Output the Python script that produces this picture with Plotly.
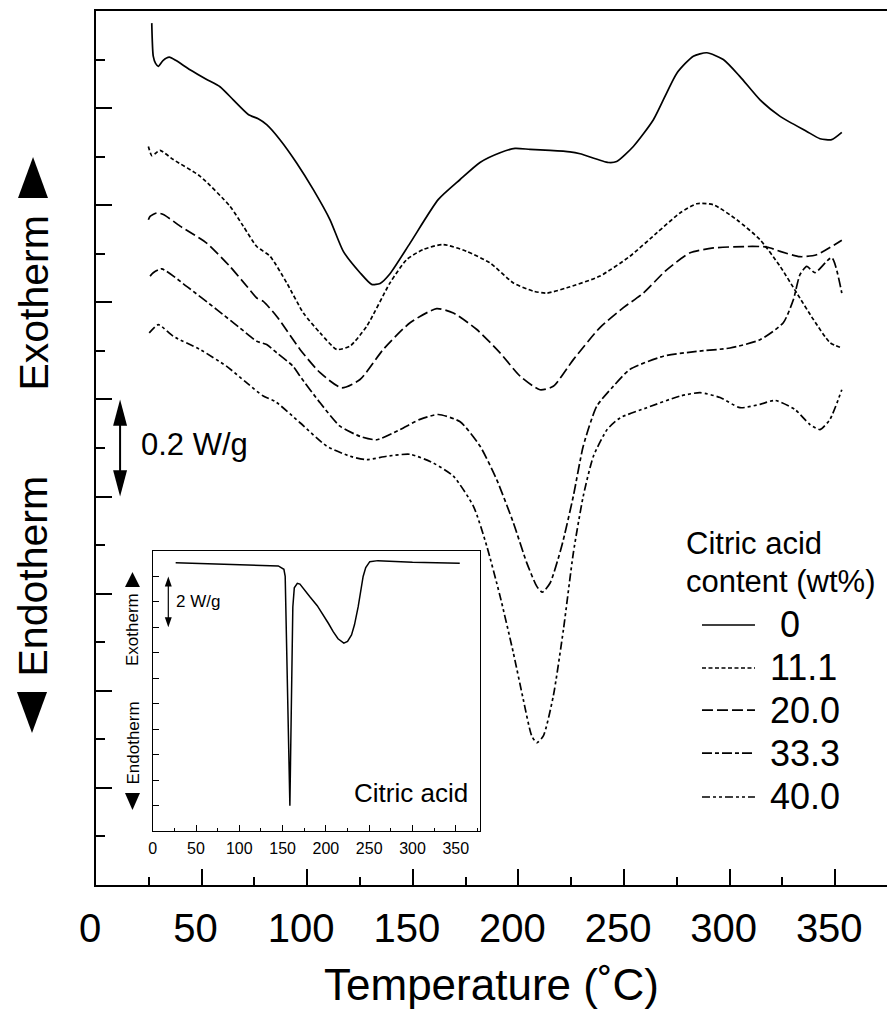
import plotly.graph_objects as go

FONT = "Liberation Sans, Arial, Helvetica, sans-serif"

# ---------------- data (temperature in deg C, heat flow in W/g, curves offset) ----------------
T0 = [26.4, 27.1, 28.2, 29.5, 31.7, 34.7, 37.9, 44.5, 52.4, 58.7, 65.0, 72.1, 76.8, 80.8, 87.1,
      95.0, 102.9, 110.8, 117.1, 125.0, 130.5, 134.5, 139.2, 148.7, 162.1, 172.4, 181.8, 191.3,
      198.4, 205.5, 215.0, 224.4, 229.2, 242.6, 246.5, 254.4, 263.9, 275.0, 282.8, 289.2, 297.0,
      304.9, 314.4, 323.9, 336.5, 342.8, 348.3, 353.1]
Y0 = [1.675, 1.607, 1.592, 1.586, 1.598, 1.605, 1.598, 1.579, 1.559, 1.544, 1.517, 1.487, 1.478,
      1.466, 1.435, 1.387, 1.332, 1.270, 1.205, 1.161, 1.137, 1.139, 1.159, 1.222, 1.312, 1.353,
      1.388, 1.408, 1.417, 1.415, 1.413, 1.410, 1.406, 1.388, 1.390, 1.421, 1.476, 1.572, 1.607,
      1.614, 1.600, 1.565, 1.517, 1.483, 1.452, 1.437, 1.435, 1.450]

T11 = [24.8, 26.4, 27.9, 30.3, 36.6, 49.2, 63.4, 69.7, 76.1, 82.4, 90.3, 98.2, 106.1, 114.0,
       120.3, 128.2, 139.2, 147.1, 155.0, 164.4, 175.5, 186.6, 197.6, 207.1, 213.4, 222.9, 238.6,
       252.8, 265.5, 276.5, 284.4, 292.3, 303.4, 314.4, 323.9, 331.8, 339.6, 347.5, 353.1]
Y11 = [1.421, 1.402, 1.406, 1.413, 1.394, 1.360, 1.298, 1.257, 1.215, 1.195, 1.140, 1.078, 1.037,
       1.003, 1.010, 1.051, 1.140, 1.188, 1.209, 1.219, 1.205, 1.181, 1.140, 1.123, 1.119, 1.130,
       1.154, 1.195, 1.243, 1.284, 1.303, 1.301, 1.270, 1.229, 1.174, 1.119, 1.065, 1.017, 1.006]

T20 = [24.8, 25.6, 28.7, 31.9, 39.8, 52.4, 63.4, 71.4, 76.1, 79.2, 85.6, 96.6, 106.1, 116.3,
       125.0, 136.0, 148.7, 161.3, 169.2, 180.3, 191.3, 200.8, 210.2, 216.5, 226.0, 238.6, 249.7,
       259.1, 270.2, 281.3, 292.3, 308.1, 317.6, 323.9, 333.3, 341.2, 353.1]
Y20 = [1.270, 1.277, 1.284, 1.281, 1.257, 1.222, 1.174, 1.133, 1.109, 1.102, 1.071, 1.003, 0.955,
       0.924, 0.941, 1.003, 1.058, 1.087, 1.078, 1.044, 0.996, 0.948, 0.920, 0.927, 0.982, 1.048,
       1.089, 1.119, 1.167, 1.202, 1.212, 1.215, 1.214, 1.205, 1.194, 1.198, 1.228]

T33 = [25.6, 27.1, 31.1, 42.9, 57.2, 68.2, 76.1, 80.8, 85.6, 93.4, 96.6, 106.1, 115.5, 125.0,
       132.9, 143.9, 153.4, 162.1, 172.4, 181.8, 189.7, 197.6, 203.9, 208.7, 211.3, 215.0, 220.5,
       226.0, 230.7, 237.1, 244.9, 252.8, 268.6, 284.4, 300.2, 314.4, 325.4, 330.2, 333.3, 336.5,
       340.4, 348.3, 353.1]
Y33 = [1.154, 1.161, 1.169, 1.133, 1.085, 1.047, 1.020, 1.013, 0.996, 0.968, 0.948, 0.893, 0.845,
       0.824, 0.817, 0.838, 0.859, 0.869, 0.854, 0.804, 0.735, 0.646, 0.564, 0.515, 0.503, 0.522,
       0.598, 0.701, 0.804, 0.886, 0.927, 0.962, 0.989, 0.999, 1.006, 1.023, 1.058, 1.106, 1.157,
       1.174, 1.161, 1.192, 1.119]

T40 = [25.2, 29.5, 36.6, 49.2, 61.9, 71.4, 79.2, 84.8, 96.6, 109.2, 120.3, 128.2, 137.6, 148.7,
       159.7, 169.2, 178.7, 185.0, 191.3, 197.6, 202.3, 206.3, 208.7, 211.8, 216.5, 221.3, 226.0,
       230.7, 235.5, 242.0, 248.1, 260.8, 276.5, 286.0, 295.5, 304.9, 314.4, 321.5, 331.0, 338.1,
       342.8, 347.5, 353.1]
Y40 = [1.037, 1.054, 1.030, 1.003, 0.968, 0.934, 0.907, 0.896, 0.852, 0.804, 0.783, 0.776, 0.783,
       0.787, 0.769, 0.742, 0.680, 0.598, 0.495, 0.378, 0.282, 0.207, 0.193, 0.207, 0.289, 0.426,
       0.584, 0.701, 0.783, 0.838, 0.862, 0.883, 0.907, 0.914, 0.904, 0.883, 0.890, 0.898, 0.879,
       0.848, 0.838, 0.859, 0.920]

# inset: pure citric acid (W/g, offset)
CA_T = [26.5, 80.0, 145.0, 151.5, 153.0, 158.4, 161.8, 163.5, 167.0, 170.0, 175.0, 181.5, 190.0,
        196.9, 203.0, 208.4, 214.0, 220.7, 225.0, 229.6, 233.0, 237.3, 240.0, 243.0, 246.0, 250.7,
        260.0, 300.0, 354.6]
CA_Y = [10.54, 10.48, 10.41, 10.28, 10.0, 0.99, 8.8, 9.55, 9.73, 9.70, 9.50, 9.20, 8.85, 8.49,
        8.15, 7.83, 7.55, 7.38, 7.45, 7.70, 8.10, 8.81, 9.40, 10.0, 10.35, 10.58, 10.62, 10.56,
        10.52]

NAMES = ["0", "11.1", "20.0", "33.3", "40.0"]
LABELS = ["\u00a00", "11.1", "20.0", "33.3", "40.0"]
XTICKS = [0, 50, 100, 150, 200, 250, 300, 350]

SERIES_T = [T0, T11, T20, T33, T40]
SERIES_Y = [Y0, Y11, Y20, Y33, Y40]
DASHES = ["solid", "4px,2.5px", "11px,4px", "10px,3px,4px,3px", "8px,3px,3px,3px,3px,3px"]

fig = go.Figure()
for name, t, y, dash in zip(NAMES, SERIES_T, SERIES_Y, DASHES):
    fig.add_trace(go.Scatter(
        x=t, y=y, mode="lines", name=name, showlegend=False, hoverinfo="skip",
        line=dict(color="black", width=1.7, dash=dash, shape="spline", smoothing=0.6)))

fig.add_trace(go.Scatter(
    x=CA_T, y=CA_Y, xaxis="x2", yaxis="y2", mode="lines", name="Citric acid",
    showlegend=False, hoverinfo="skip", line=dict(color="black", width=1.5)))

# ---------------- layout ----------------
X_RANGE = [0, 374.5]
Y_RANGE = [-0.1, 1.7]

shapes = []
annotations = []

# legend drawn as samples + labels (paper coords of main plot area)
leg_y = [0.2975, 0.2483, 0.2002, 0.1510, 0.1007]
for yy, lab, dash in zip(leg_y, LABELS, DASHES):
    shapes.append(dict(type="line", xref="paper", yref="paper", x0=0.7661, x1=0.8331, y0=yy, y1=yy,
                       line=dict(color="black", width=1.7, dash=dash)))
    annotations.append(dict(xref="paper", yref="paper", x=0.8495, y=yy, text=lab, showarrow=False,
                            xanchor="left", yanchor="middle", font=dict(size=36, color="black")))
annotations.append(dict(xref="paper", yref="paper", x=0.7435, y=0.3913, text="Citric acid",
                        showarrow=False, xanchor="left", yanchor="middle",
                        font=dict(size=31, color="black")))
annotations.append(dict(xref="paper", yref="paper", x=0.7435, y=0.3467, text="content (wt%)",
                        showarrow=False, xanchor="left", yanchor="middle",
                        font=dict(size=31, color="black")))

# side labels main
annotations.append(dict(xref="paper", yref="paper", x=-0.0796, y=0.6653, text="Exotherm",
                        textangle=-90, showarrow=False, xanchor="center", yanchor="middle",
                        font=dict(size=41, color="black")))
annotations.append(dict(xref="paper", yref="paper", x=-0.0796, y=0.353, text="Endotherm",
                        textangle=-90, showarrow=False, xanchor="center", yanchor="middle",
                        font=dict(size=41, color="black")))
shapes.append(dict(type="path", xref="paper", yref="paper",
                   path="M -0.0986 0.786 L -0.0607 0.786 L -0.0796 0.833 Z",
                   fillcolor="black", line=dict(width=0)))
shapes.append(dict(type="path", xref="paper", yref="paper",
                   path="M -0.0999 0.2208 L -0.0619 0.2208 L -0.0809 0.1739 Z",
                   fillcolor="black", line=dict(width=0)))

# main scale bar (0.2 W/g)
SB_X, SB_Y0, SB_Y1 = 11.4, 0.70, 0.90
hl, hw = 0.054, 3.3
shapes.append(dict(type="line", xref="x", yref="y", x0=SB_X, x1=SB_X, y0=SB_Y0 + hl * 0.5,
                   y1=SB_Y1 - hl * 0.5, line=dict(color="black", width=2)))
shapes.append(dict(type="path", xref="x", yref="y",
                   path=f"M {SB_X - hw} {SB_Y1 - hl} L {SB_X + hw} {SB_Y1 - hl} L {SB_X} {SB_Y1} Z",
                   fillcolor="black", line=dict(width=0)))
shapes.append(dict(type="path", xref="x", yref="y",
                   path=f"M {SB_X - hw} {SB_Y0 + hl} L {SB_X + hw} {SB_Y0 + hl} L {SB_X} {SB_Y0} Z",
                   fillcolor="black", line=dict(width=0)))
annotations.append(dict(xref="x", yref="y", x=20.3, y=0.807, text="0.2 W/g", showarrow=False,
                        xanchor="left", yanchor="middle", font=dict(size=31, color="black")))

# inset scale bar (2 W/g)
IB_X, IB_Y0, IB_Y1 = 18.0, 8.0, 10.0
ihl, ihw = 0.40, 4.0
shapes.append(dict(type="line", xref="x2", yref="y2", x0=IB_X, x1=IB_X, y0=IB_Y0 + ihl * 0.5,
                   y1=IB_Y1 - ihl * 0.5, line=dict(color="black", width=1.2)))
shapes.append(dict(type="path", xref="x2", yref="y2",
                   path=f"M {IB_X - ihw} {IB_Y1 - ihl} L {IB_X + ihw} {IB_Y1 - ihl} L {IB_X} {IB_Y1} Z",
                   fillcolor="black", line=dict(width=0)))
shapes.append(dict(type="path", xref="x2", yref="y2",
                   path=f"M {IB_X - ihw} {IB_Y0 + ihl} L {IB_X + ihw} {IB_Y0 + ihl} L {IB_X} {IB_Y0} Z",
                   fillcolor="black", line=dict(width=0)))
annotations.append(dict(xref="x2", yref="y2", x=24.5, y=9.0, text="2 W/g", showarrow=False,
                        xanchor="left", yanchor="middle", font=dict(size=17, color="black")))
annotations.append(dict(xref="x2", yref="y2", x=366, y=1.49, text="Citric acid", showarrow=False,
                        xanchor="right", yanchor="middle", font=dict(size=26, color="black")))

# inset side labels
annotations.append(dict(xref="paper", yref="paper", x=0.0468, y=0.2918, text="Exotherm",
                        textangle=-90, showarrow=False, xanchor="center", yanchor="middle",
                        font=dict(size=17, color="black")))
annotations.append(dict(xref="paper", yref="paper", x=0.0468, y=0.1619, text="Endotherm",
                        textangle=-90, showarrow=False, xanchor="center", yanchor="middle",
                        font=dict(size=17, color="black")))
shapes.append(dict(type="path", xref="paper", yref="paper",
                   path="M 0.0367 0.341 L 0.0556 0.341 L 0.0461 0.3581 Z",
                   fillcolor="black", line=dict(width=0)))
shapes.append(dict(type="path", xref="paper", yref="paper",
                   path="M 0.0367 0.1053 L 0.0556 0.1053 L 0.0461 0.0858 Z",
                   fillcolor="black", line=dict(width=0)))

fig.update_layout(
    width=887, height=1016,
    margin=dict(l=96, r=0, t=11, b=131, autoexpand=False),
    paper_bgcolor="white", plot_bgcolor="white",
    font=dict(family=FONT, color="black"),
    showlegend=False,
    xaxis=dict(domain=[0, 1], anchor="y", range=X_RANGE, showline=True, linewidth=2,
               linecolor="black", mirror=True, ticks="inside", ticklen=16, tickwidth=2,
               tickcolor="black", tickmode="array", tickvals=XTICKS,
               minor=dict(ticks="inside", ticklen=8, tickwidth=2, tickcolor="black",
                          dtick=25, tick0=0),
               tickfont=dict(size=40), ticklabelstandoff=7, ticklabelshift=-6,
               showgrid=False, zeroline=False,
               title=dict(text="Temperature (\u02daC)", font=dict(size=44), standoff=20)),
    yaxis=dict(domain=[0, 1], anchor="x", range=Y_RANGE, showline=True, linewidth=2,
               linecolor="black", mirror=False, ticks="inside", ticklen=16, tickwidth=2,
               tickcolor="black", tick0=0.1, dtick=0.2,
               minor=dict(ticks="inside", ticklen=9, tickwidth=2, tickcolor="black",
                          dtick=0.1, tick0=0),
               showticklabels=False, showgrid=False, zeroline=False),
    yaxis3=dict(overlaying="y", side="right", anchor="x", range=Y_RANGE, showline=False,
                ticks="inside", ticklen=16, tickwidth=2, tickcolor="black",
                tickmode="array", tickvals=[1.1, 1.3, 1.5],
                minor=dict(ticks="inside", ticklen=8, tickwidth=2, tickcolor="black",
                           tickmode="array", tickvals=[1.2, 1.4, 1.6]),
                showticklabels=False, showgrid=False, zeroline=False),
    xaxis2=dict(domain=[0.0717, 0.4855], anchor="y2", range=[0, 378], showline=True,
                linewidth=1.2, linecolor="black", mirror=True, ticks="inside", ticklen=6,
                tickwidth=1, tickcolor="black", tickmode="array", tickvals=XTICKS,
                minor=dict(ticks="inside", ticklen=3, tickwidth=1, tickcolor="black",
                           dtick=25, tick0=0),
                tickfont=dict(size=16), ticklabelstandoff=3,
                showgrid=False, zeroline=False),
    yaxis2=dict(domain=[0.0618, 0.3822], anchor="x2", range=[0, 11], showline=True,
                linewidth=1.2, linecolor="black", mirror=True, ticks="inside", ticklen=6,
                tickwidth=1, tickcolor="black", tick0=0, dtick=1,
                showticklabels=False, showgrid=False, zeroline=False),
    shapes=shapes,
    annotations=annotations,
)

fig.write_html("out.html")
